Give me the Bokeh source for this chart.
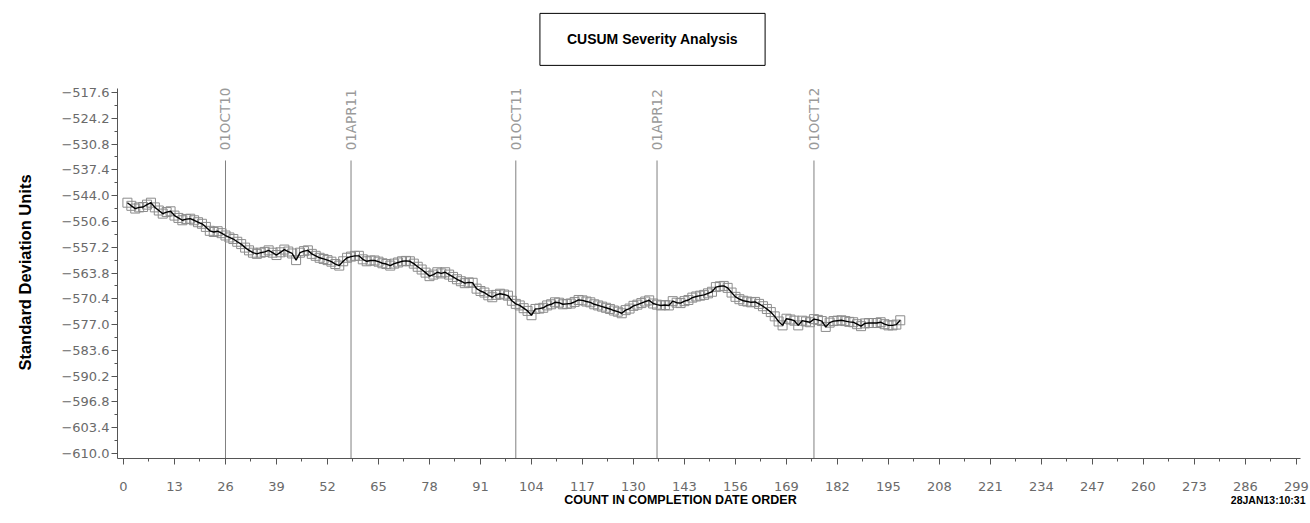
import math
from bokeh.plotting import figure
from bokeh.models import FixedTicker, Label, Range1d
from bokeh.embed import file_html
from bokeh.resources import INLINE

# ---------------- data ----------------
counts = list(range(1, 199))
cusum = [
    -545.8, -546.6, -547.3, -547.0, -546.9, -546.3, -545.8, -547.0, -547.8, -548.6,
    -548.2, -548.0, -549.1, -549.7, -550.3, -550.0, -549.9, -550.3, -550.8, -551.2,
    -552.0, -553.0, -553.3, -553.1, -553.6, -554.2, -554.7, -555.1, -555.8, -556.4,
    -557.3, -558.0, -558.6, -558.9, -558.6, -558.4, -558.0, -558.6, -559.2, -558.5,
    -557.8, -558.3, -558.8, -560.5, -558.6, -558.2, -558.0, -558.9, -559.4, -559.9,
    -560.2, -560.5, -560.9, -561.5, -561.9, -560.8, -559.9, -559.6, -559.4, -559.4,
    -560.3, -560.8, -560.6, -560.6, -560.9, -561.3, -561.5, -561.9, -561.4, -561.1,
    -560.8, -560.7, -560.8, -561.4, -562.2, -562.9, -563.7, -564.6, -564.2, -563.6,
    -563.9, -563.6, -564.2, -564.8, -565.4, -565.9, -566.4, -566.2, -566.3, -567.8,
    -568.4, -568.8, -569.5, -570.0, -569.4, -569.1, -569.3, -569.6, -570.9, -571.7,
    -572.1, -572.8, -573.5, -574.6, -573.0, -572.9, -572.7, -572.1, -571.8, -571.3,
    -571.4, -571.8, -571.7, -571.6, -571.2, -570.7, -570.8, -571.1, -571.3, -571.8,
    -572.1, -572.4, -572.7, -573.0, -573.4, -573.7, -574.1, -573.3, -572.9, -572.2,
    -571.9, -571.5, -571.1, -570.8, -571.6, -571.9, -572.1, -572.0, -572.1, -571.0,
    -571.4, -571.5, -571.0, -570.7, -570.1, -569.8, -569.6, -569.4, -569.0, -568.6,
    -567.4, -567.2, -567.1, -567.6, -568.8, -569.9, -570.5, -570.9, -571.1, -571.3,
    -571.2, -571.7, -572.3, -573.0, -573.8, -574.9, -576.2, -577.2, -575.5, -575.7,
    -576.0, -577.2, -576.0, -576.2, -576.4, -575.6, -575.8, -576.1, -577.6, -576.5,
    -576.1, -576.0, -575.9, -576.1, -576.3, -576.4, -576.9, -577.4, -576.7, -576.6,
    -576.6, -576.6, -576.4, -576.9, -577.2, -577.2, -577.0, -575.9,
]

date_counts = [26, 58, 100, 136, 176]
date_labels = ["01OCT10", "01APR11", "01OCT11", "01APR12", "01OCT12"]

y_ticks = [-517.6, -524.2, -530.8, -537.4, -544.0, -550.6, -557.2, -563.8,
           -570.4, -577.0, -583.6, -590.2, -596.8, -603.4, -610.0]
x_ticks = list(range(0, 300, 13))

title_text = "CUSUM Severity Analysis"
y_title = "Standard Deviation Units"
x_title = "COUNT IN COMPLETION DATE ORDER"
stamp = "28JAN13:10:31"

# ---------------- figure (frame spans the whole canvas) ----------------
ax_left, ax_right = -1.53, 300.0      # x extent of the axis box
ax_bottom, ax_top = -611.28, -516.58  # y extent of the axis box
p = figure(width=1310, height=523, output_backend="svg", toolbar_location=None,
           x_range=Range1d(-31.35, 302.57), y_range=Range1d(-627.91, -494.05),
           min_border_left=0, min_border_right=0,
           min_border_top=0, min_border_bottom=0)
p.outline_line_color = None
p.background_fill_color = "white"
p.border_fill_color = "white"
p.xgrid.visible = False
p.ygrid.visible = False

y_minor = [round((a + b) / 2, 2) for a, b in zip(y_ticks[:-1], y_ticks[1:])]
x_minor = [(a + b) / 2 for a, b in zip(x_ticks[:-1], x_ticks[1:])]
p.yaxis.ticker = FixedTicker(ticks=y_ticks, minor_ticks=y_minor)
p.xaxis.ticker = FixedTicker(ticks=x_ticks, minor_ticks=x_minor)
p.yaxis.major_label_overrides = {t: f"{t:.1f}".replace("-", "\u2212") for t in y_ticks}
p.yaxis.fixed_location = ax_left
p.xaxis.fixed_location = ax_bottom
p.yaxis.bounds = (ax_bottom, ax_top)
p.xaxis.bounds = (ax_left, ax_right)

for ax in (p.xaxis[0], p.yaxis[0]):
    ax.axis_line_color = "#555555"
    ax.major_tick_line_color = "#555555"
    ax.minor_tick_line_color = "#555555"
    ax.major_tick_in = 0
    ax.major_tick_out = 6
    ax.minor_tick_in = 0
    ax.minor_tick_out = 3
    ax.major_label_text_font = "DejaVu Sans"
    ax.major_label_text_font_size = "13px"
    ax.major_label_text_color = "#6a6a6a"
p.yaxis.major_label_standoff = 2
p.xaxis.major_label_standoff = 17

# date separator lines
p.segment(x0=date_counts, y0=[-535.0] * len(date_counts), x1=date_counts,
          y1=[ax_bottom] * len(date_counts), line_color="#808080", line_width=1)
for dc, dl in zip(date_counts, date_labels):
    p.add_layout(Label(x=dc, y=-532.4, text=dl, angle=math.pi / 2,
                       text_align="left", text_baseline="middle",
                       text_font="DejaVu Sans", text_font_size="13.5px",
                       text_color="#9a9a9a"))

# data
p.scatter(counts, cusum, marker="square", size=9, fill_color=None,
          line_color="#8c8c8c", line_width=1)
p.line(counts, cusum, line_color="black", line_width=1.4)

# titles
p.add_layout(Label(x=-24.98, y=-563.67, text=y_title, angle=math.pi / 2,
                   text_align="center", text_baseline="middle",
                   text_font="Liberation Sans", text_font_style="bold",
                   text_font_size="16.5px", text_color="black"))
p.add_layout(Label(x=141.98, y=-622.0, text=x_title, text_align="center",
                   text_baseline="middle", text_font="Liberation Sans",
                   text_font_style="bold", text_font_size="12.5px", text_color="black"))
p.add_layout(Label(x=301.3, y=-622.0, text=stamp, text_align="right",
                   text_baseline="middle", text_font="Liberation Sans",
                   text_font_style="bold", text_font_size="10.5px", text_color="black"))
p.add_layout(Label(x=134.85, y=-504.0, text=title_text, text_align="center",
                   text_baseline="middle", text_font="Liberation Sans",
                   text_font_style="bold", text_font_size="14px", text_color="black",
                   border_line_color="black", border_line_width=1,
                   background_fill_color="white", padding=(27, 18)))

open("out.html", "w").write(file_html(p, INLINE))
